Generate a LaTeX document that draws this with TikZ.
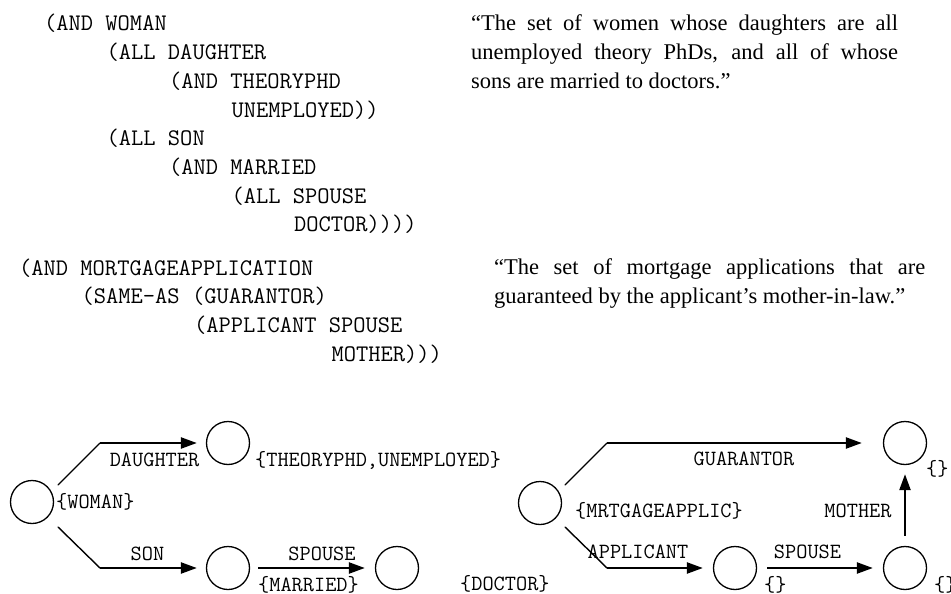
\documentclass[tikz,border=0pt]{standalone}
\usepackage{fontspec}
\newfontfamily\quotefont{Liberation Serif}
\usetikzlibrary{arrows.meta}
\begin{document}
\begin{tikzpicture}[x=1pt,y=-1pt,
  code/.style={font=\fontsize{23.8}{28.7}\selectfont\ttfamily, anchor=base west, inner sep=0pt},
  lab/.style={font=\fontsize{21.7}{26}\selectfont\ttfamily, inner sep=0pt},
  prose/.style={font=\fontsize{22.5}{28.6}\selectfont\quotefont, anchor=base west, inner sep=0pt},
  state/.style={circle, draw, line width=1.3pt, minimum size=43pt, inner sep=0pt},
  diag/.style={line width=1.4pt, line cap=round},
  arr/.style={line width=2.3pt, -{Triangle[length=16pt,width=11pt]}},
]
\useasboundingbox (0,0) rectangle (951,594);

% ---- code block 1
\node[code] (a1) at (44,31)      {(AND WOMAN};
\node[code] (a2) at (106.5,59.7) {(ALL DAUGHTER};
\node[code] (a3) at (169,88.4)   {(AND THEORYPHD};
\node[code] (a4) at (231.4,117.1){UNEMPLOYED))};
\node[code] (a5) at (106.5,145.8){(ALL SON};
\node[code] (a6) at (169,174.5)  {(AND MARRIED};
\node[code] (a7) at (231.4,203.2){(ALL SPOUSE};
\node[code] (a8) at (293.9,231.9){DOCTOR))))};

% ---- code block 2
\node[code] (b1) at (19,275)     {(AND MORTGAGEAPPLICATION};
\node[code] (b2) at (81.5,303.7) {(SAME-AS (GUARANTOR)};
\node[code] (b3) at (193.9,332.4){(APPLICANT SPOUSE};
\node[code] (b4) at (331.4,361.1){MOTHER)))};

% ---- prose
\node[prose] (q1a) at (471,31)   {\makebox[427pt][s]{“The set of women whose daughters are all}};
\node[prose] (q1b) at (471,59.6) {\makebox[427pt][s]{unemployed theory PhDs, and all of whose}};
\node[prose] (q1c) at (471,88.2) {sons are married to doctors.”};
\node[prose] (q2a) at (494,274)  {\makebox[431pt][s]{“The set of mortgage applications that are}};
\node[prose] (q2b) at (494,303)  {guaranteed by the applicant’s mother-in-law.”};

% ---- left graph
\node[state] (woman) at (32,502) {};
\node[state] (dau)   at (228,443) {};
\node[state] (son)   at (228,568) {};
\node[state] (doc)   at (397,568) {};
\coordinate (w1)  at (58,485);
\coordinate (wk1) at (100,443);
\coordinate (w2)  at (58,527);
\coordinate (wk2) at (100,568);
\draw[diag] (w1) -- (wk1);
\draw[arr, shorten >=9pt] (wk1) -- (dau);
\draw[diag] (w2) -- (wk2);
\draw[arr, shorten >=9pt] (wk2) -- (son);
\draw[arr, shorten <=8pt, shorten >=10pt] (son) -- (doc);

\node[lab, anchor=base]      (ldau)   at (154.5,466) {DAUGHTER};
\node[lab, anchor=base west] (lthe)   at (255,466)   {\{THEORYPHD,UNEMPLOYED\}};
\node[lab, anchor=base west] (lwoman) at (56,508)    {\{WOMAN\}};
\node[lab, anchor=base]      (lson)   at (147.5,560) {SON};
\node[lab, anchor=base]      (lsp1)   at (322,560)   {SPOUSE};
\node[lab, anchor=base west] (lmar)   at (258,591)   {\{MARRIED\}};
\node[lab, anchor=base west] (ldoc)   at (460,590)   {\{DOCTOR\}};

% ---- right graph
\node[state] (mort) at (540,503) {};
\node[state] (guar) at (905,443) {};
\node[state] (app)  at (735,568) {};
\node[state] (sp)   at (905,568) {};
\coordinate (m1)  at (565,485);
\coordinate (mk1) at (607,443);
\coordinate (m2)  at (565,527);
\coordinate (mk2) at (607,568);
\draw[diag] (m1) -- (mk1);
\draw[arr, shorten >=21pt] (mk1) -- (guar);
\draw[diag] (m2) -- (mk2);
\draw[arr, shorten >=10pt] (mk2) -- (app);
\draw[arr, shorten <=10pt, shorten >=10pt] (app) -- (sp);
\draw[arr, shorten <=10pt, shorten >=9pt] (sp) -- (guar);

\node[lab, anchor=base]      (lguar) at (744,465)   {GUARANTOR};
\node[lab, anchor=base west] (le1)   at (926,475)   {\{\}};
\node[lab, anchor=base west] (lmort) at (575,517)   {\{MRTGAGEAPPLIC\}};
\node[lab, anchor=base]      (lmoth) at (858,517)   {MOTHER};
\node[lab, anchor=base]      (lapp)  at (638,558)   {APPLICANT};
\node[lab, anchor=base]      (lsp2)  at (807.5,558) {SPOUSE};
\node[lab, anchor=base west] (le2)   at (764,591)   {\{\}};
\node[lab, anchor=base west] (le3)   at (934,591)   {\{\}};
\end{tikzpicture}
\end{document}
